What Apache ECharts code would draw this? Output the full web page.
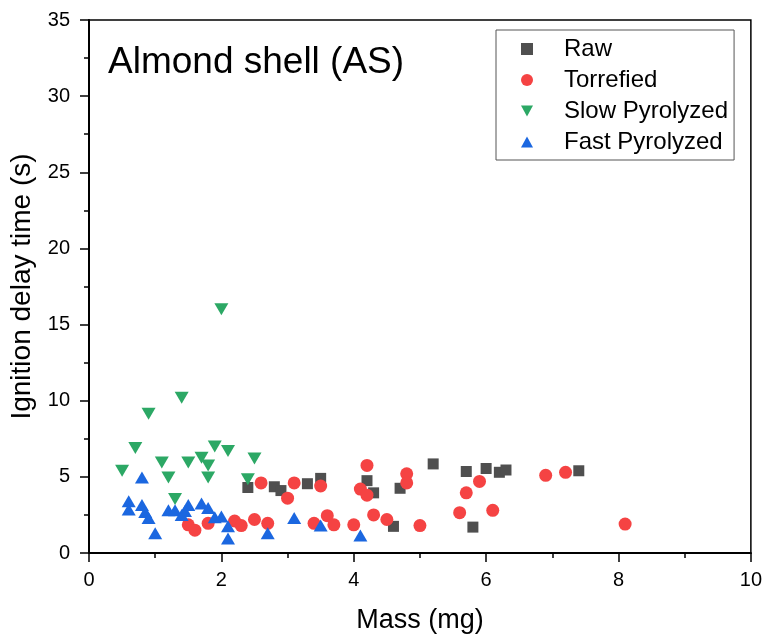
<!DOCTYPE html>
<html>
<head>
<meta charset="utf-8">
<script src="https://cdn.jsdelivr.net/npm/echarts@6/dist/echarts.min.js"></script>
<style>
html,body{margin:0;padding:0;background:#fff;}
#chart{width:765px;height:641px;}
</style>
</head>
<body>
<div id="chart"></div>
<script>
// ---- Data (mass in mg, ignition delay time in s) ----
const seriesNames = ['Raw', 'Torrefied', 'Slow Pyrolyzed', 'Fast Pyrolyzed'];

const rawMass = [2.4, 2.8, 2.9, 3.3, 3.5, 4.2, 4.3, 4.7, 4.6, 5.2, 5.7, 5.8, 6.0, 6.2, 6.3, 7.4];
const rawTime = [4.3, 4.35, 4.1, 4.55, 4.9, 4.75, 3.95, 4.25, 1.75, 5.85, 5.35, 1.7, 5.55, 5.3, 5.45, 5.4];

const torMass = [1.5, 1.6, 1.8, 2.2, 2.3, 2.5, 2.6, 2.7, 3.0, 3.1, 3.4, 3.5, 3.6, 3.7, 4.0, 4.1, 4.2, 4.2, 4.3, 4.5, 4.8, 4.8, 5.0, 5.6, 5.7, 5.9, 6.1, 6.9, 7.2, 8.1];
const torTime = [1.85, 1.5, 1.95, 2.1, 1.8, 2.2, 4.6, 1.95, 3.6, 4.6, 1.95, 4.4, 2.45, 1.85, 1.85, 4.2, 5.75, 3.8, 2.5, 2.2, 5.2, 4.6, 1.8, 2.65, 3.95, 4.7, 2.8, 5.1, 5.3, 1.9];

const slowMass = [0.5, 0.7, 0.9, 1.1, 1.2, 1.3, 1.4, 1.5, 1.7, 1.8, 1.8, 1.9, 2.0, 2.1, 2.4, 2.5];
const slowTime = [5.4, 6.9, 9.15, 5.95, 4.95, 3.55, 10.2, 5.95, 6.25, 5.75, 4.95, 7.0, 16.0, 6.7, 4.85, 6.2];

const fastMass = [0.6, 0.6, 0.8, 0.8, 0.85, 0.9, 1.0, 1.2, 1.3, 1.4, 1.45, 1.5, 1.7, 1.8, 1.9, 2.0, 2.1, 2.1, 2.7, 3.1, 3.5, 4.1];
const fastTime = [3.4, 2.85, 4.95, 3.15, 2.7, 2.3, 1.3, 2.8, 2.8, 2.5, 2.75, 3.15, 3.25, 2.95, 2.35, 2.4, 1.75, 0.95, 1.3, 2.3, 1.8, 1.15];

const xTicks = {min: 0, max: 10, step: 2};
const yTicks = {min: 0, max: 35, step: 5};

// ---- Build ----
const zip = (a, b) => a.map((v, i) => [v, b[i]]);
const FONT = 'Liberation Sans, Arial, sans-serif';

const chart = echarts.init(document.getElementById('chart'), null, {renderer: 'canvas'});

const option = {
  backgroundColor: '#ffffff',
  animation: false,
  title: {
    text: 'Almond shell (AS)',
    left: 108, top: 44, padding: 0,
    textStyle: {fontFamily: FONT, fontSize: 37, fontWeight: 'normal', color: '#000'}
  },
  legend: {
    orient: 'vertical',
    left: 496, top: 30,
    padding: [7, 6, 6, 25],
    itemGap: 7,
    itemWidth: 12, itemHeight: 12,
    borderColor: '#555', borderWidth: 1,
    textStyle: {fontFamily: FONT, fontSize: 24, color: '#000', padding: [0, 0, 0, 26]},
    data: [
      {name: seriesNames[0], icon: 'rect'},
      {name: seriesNames[1], icon: 'circle'},
      {name: seriesNames[2], icon: 'path://M0,0 L12,0 L6,11 Z'},
      {name: seriesNames[3], icon: 'path://M6,0 L12,11 L0,11 Z'}
    ]
  },
  grid: {left: 88, right: 13, top: 20, bottom: 88, show: true, borderColor: '#000', borderWidth: 1.5, backgroundColor: 'transparent'},
  xAxis: {
    type: 'value', min: xTicks.min, max: xTicks.max, interval: xTicks.step,
    name: 'Mass (mg)', nameLocation: 'middle', nameGap: 54,
    nameTextStyle: {fontFamily: FONT, fontSize: 27, color: '#000'},
    axisLine: {lineStyle: {color: '#000', width: 2}},
    axisTick: {show: true, inside: false, length: 9, lineStyle: {color: '#000', width: 1.5}},
    minorTick: {show: true, splitNumber: 2, length: 5, lineStyle: {color: '#000', width: 1.5}},
    splitLine: {show: false},
    axisLabel: {fontFamily: FONT, fontSize: 20, color: '#000', margin: 17}
  },
  yAxis: {
    type: 'value', min: yTicks.min, max: yTicks.max, interval: yTicks.step,
    name: 'Ignition delay time (s)', nameLocation: 'middle', nameGap: 53,
    nameTextStyle: {fontFamily: FONT, fontSize: 28, color: '#000'},
    axisLine: {show: true, lineStyle: {color: '#000', width: 2}},
    axisTick: {show: true, inside: false, length: 9, lineStyle: {color: '#000', width: 1.5}},
    minorTick: {show: true, splitNumber: 2, length: 5, lineStyle: {color: '#000', width: 1.5}},
    splitLine: {show: false},
    axisLabel: {fontFamily: FONT, fontSize: 20, color: '#000', margin: 19}
  },
  series: [
    {name: seriesNames[0], type: 'scatter', symbol: 'rect', symbolSize: 11,
     itemStyle: {color: '#4f4f4f', opacity: 1}, data: zip(rawMass, rawTime)},
    {name: seriesNames[1], type: 'scatter', symbol: 'circle', symbolSize: 13,
     itemStyle: {color: '#f54343', opacity: 1}, data: zip(torMass, torTime)},
    {name: seriesNames[2], type: 'scatter', symbol: 'triangle', symbolRotate: 180, symbolSize: [14, 12],
     itemStyle: {color: '#2ca865', opacity: 1}, data: zip(slowMass, slowTime)},
    {name: seriesNames[3], type: 'scatter', symbol: 'triangle', symbolSize: [14, 12],
     itemStyle: {color: '#1b67e0', opacity: 1}, data: zip(fastMass, fastTime)}
  ]
};
chart.setOption(option);
</script>
</body>
</html>
